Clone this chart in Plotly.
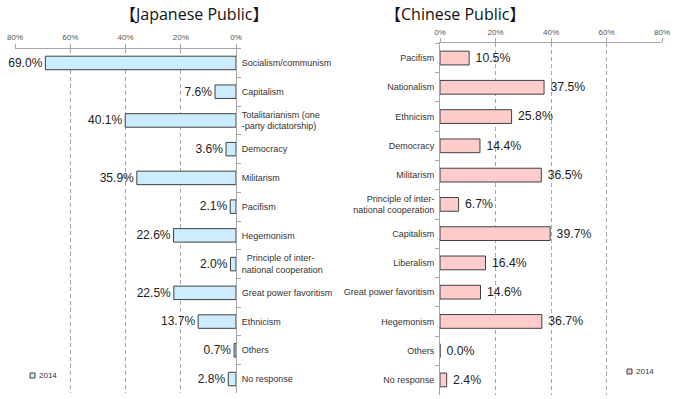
import plotly.graph_objects as go

jp_categories = ["Socialism/communism", "Capitalism", "Totalitarianism (one<br>-party dictatorship)",
                 "Democracy", "Militarism", "Pacifism", "Hegemonism",
                 "  Principle of inter-<br>national cooperation", "Great power favoritism",
                 "Ethnicism", "Others", "No response"]
jp_values = [69.0, 7.6, 40.1, 3.6, 35.9, 2.1, 22.6, 2.0, 22.5, 13.7, 0.7, 2.8]

cn_categories = ["Pacifism", "Nationalism", "Ethnicism", "Democracy", "Militarism",
                 "Principle of inter-<br>national cooperation", "Capitalism", "Liberalism",
                 "Great power favoritism", "Hegemonism", "Others", "No response"]
cn_values = [10.5, 37.5, 25.8, 14.4, 36.5, 6.7, 39.7, 16.4, 14.6, 36.7, 0.0, 2.4]

x_ticks = [0, 20, 40, 60, 80]
series_name = "2014"

JP_FILL = "#CCECFF"
CN_FILL = "#FFCCCC"
EDGE = "#404040"
GRID = "#A6A6A6"
TXT = "#333333"
W, H = 680, 399

fig = go.Figure()
fig.add_trace(go.Bar(
    y=jp_categories, x=jp_values, orientation="h", xaxis="x", yaxis="y",
    marker=dict(color=JP_FILL, line=dict(color=EDGE, width=1)),
    width=0.47, text=[f"{v:.1f}%" for v in jp_values], textposition="outside",
    textfont=dict(family="Liberation Sans, Arial", size=12.5, color="#222222"),
    cliponaxis=False, showlegend=False, name=series_name))
fig.add_trace(go.Bar(
    y=cn_categories, x=cn_values, orientation="h", xaxis="x2", yaxis="y2",
    marker=dict(color=CN_FILL, line=dict(color=EDGE, width=1)),
    width=0.47, text=[f"\u00a0{v:.1f}%" for v in cn_values], textposition="outside",
    textfont=dict(family="Liberation Sans, Arial", size=12.5, color="#222222"),
    cliponaxis=False, showlegend=False, name=series_name))

tickfont = dict(family="Liberation Sans, Arial", size=8, color="#555555")
catfont = dict(family="Liberation Sans, Arial", size=9, color=TXT)

common_x = dict(side="top", tickvals=x_ticks, ticktext=[f"{t}%" for t in x_ticks],
                showgrid=True, gridcolor=GRID, griddash="4px,3px", gridwidth=1,
                showline=True, linecolor=GRID, linewidth=1, ticks="outside",
                ticklen=4, tickcolor=GRID, tickfont=tickfont, zeroline=False,
                fixedrange=True, automargin=False)
common_y = dict(type="category", autorange="reversed", showline=True, linecolor=GRID,
                linewidth=1, ticks="outside", tickson="boundaries", ticklen=4,
                tickcolor=GRID, tickfont=catfont, showgrid=False, fixedrange=True,
                automargin=False)

fig.update_layout(
    width=W, height=H, margin=dict(l=0, r=0, t=0, b=0, autoexpand=False),
    paper_bgcolor="white", plot_bgcolor="white", bargap=0.5,
    xaxis=dict(domain=[15 / W, 236 / W], range=[80, 0], anchor="y", **common_x),
    yaxis=dict(domain=[1 - 393.4 / H, 1 - 48.6 / H], anchor="x", side="right",
               ticklabelstandoff=3, **common_y),
    xaxis2=dict(domain=[440 / W, 662 / W], range=[0, 80], anchor="y2", **common_x),
    yaxis2=dict(domain=[1 - 394.6 / H, 1 - 43.4 / H], anchor="x2", side="left",
                ticklabelstandoff=3, **common_y),
)

title_font = dict(family="Open Sans, Noto Sans CJK JP", size=16, color="#111111")
fig.add_annotation(text="【Japanese Public】", x=118 / W, y=1 - 14 / H, xref="paper",
                   yref="paper", yanchor="middle", showarrow=False, font=title_font)
fig.add_annotation(text="【Chinese Public】", x=527 / W, y=1 - 14 / H, xref="paper",
                   yref="paper", yanchor="middle", showarrow=False, font=title_font)

# legends
legfont = dict(family="Liberation Sans, Arial", size=8, color=TXT)
for sx, sy, fill in [(30, 373, JP_FILL), (627, 369, CN_FILL)]:
    fig.add_shape(type="rect", xref="paper", yref="paper",
                  x0=sx / W, x1=(sx + 5) / W, y0=1 - (sy + 5) / H, y1=1 - sy / H,
                  fillcolor=fill, line=dict(color=EDGE, width=1))
    fig.add_annotation(text=series_name, x=(sx + 7) / W, y=1 - (sy + 2.5) / H,
                       xref="paper", yref="paper", xanchor="left", yanchor="middle",
                       showarrow=False, font=legfont)

fig.write_html("out.html", config={"displayModeBar": False},
               post_script="document.body.style.margin='0';document.body.style.overflow='hidden';")
